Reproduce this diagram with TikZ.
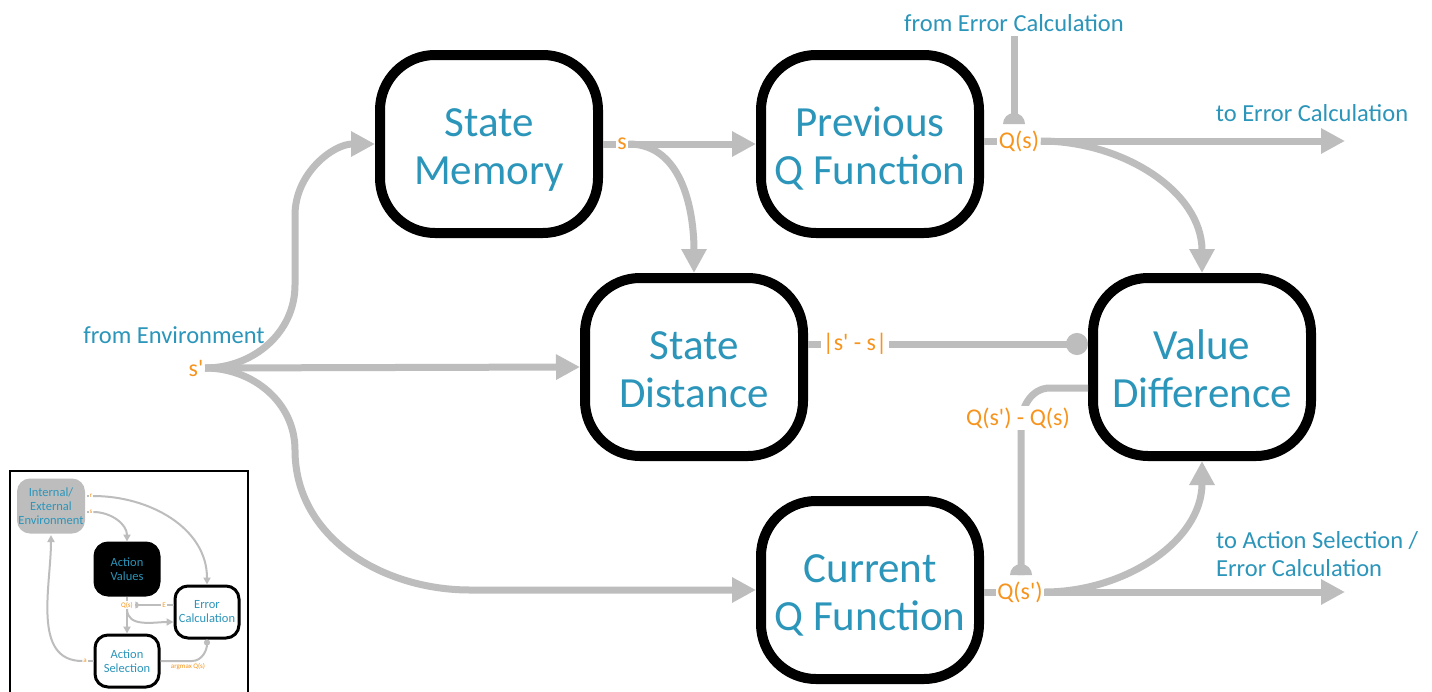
\documentclass[tikz,border=0pt]{standalone}
\usepackage{fontspec}
\setmainfont{Carlito}
\usetikzlibrary{arrows.meta,calc}
\definecolor{txtblue}{HTML}{2B95BA}
\definecolor{lblorange}{HTML}{F7941D}
\definecolor{conngray}{HTML}{BDBDBD}
\newcommand{\bs}{\rule[-8pt]{0pt}{48pt}}
\newcommand{\pr}{\textquotesingle}
\begin{document}
\begin{tikzpicture}[x=1pt,y=1pt,
  box/.style={draw=black, line width=10pt, rounded corners=55pt, minimum width=218pt, minimum height=178pt, align=center, text=txtblue, font=\fontsize{43}{48}\selectfont, fill=white},
  lbl/.style={text=lblorange, font=\fontsize{24}{28}\selectfont, inner sep=1.5pt, fill=white},
  note/.style={text=txtblue, font=\fontsize{24.5}{28}\selectfont, inner sep=0pt, align=left},
  conn/.style={draw=conngray, line width=7pt},
  arr/.style={conn, -{Triangle[length=24pt,width=24pt]}},
  ibox/.style={draw=black, line width=3pt, rounded corners=13pt, minimum width=64pt, minimum height=52pt, align=center, text=txtblue, font=\fontsize{12.5}{14}\selectfont, fill=white, inner sep=1pt},
  ilbl/.style={text=lblorange, font=\fontsize{7}{8}\selectfont, inner sep=0.8pt, fill=white},
  iconn/.style={draw=conngray, line width=2pt},
  iarr/.style={iconn, -{Triangle[length=7pt,width=7pt]}}
]
\useasboundingbox (0,0) rectangle (1432,-691);
\fill[white] (0,0) rectangle (1432,-691);

% main boxes
\node[box] (sm) at (489,-144) {\bs State\\\bs Memory};
\node[box] (pq) at (870,-144) {\bs Previous\\\bs Q Function};
\node[box] (sd) at (694,-367) {\bs State\\\bs Distance};
\node[box] (vd) at (1202,-367) {\bs Value\\\bs Difference};
\node[box] (cq) at (870,-590) {\bs Current\\\bs Q Function};

% labels
\node[note] (fromenv) at (174,-335) {from Environment};
\node[lbl] (sp) at (196,-368) {s\pr};
\node[lbl] (slab) at (622,-144) {s};
\node[lbl] (qslab) at (1019,-141) {Q(s)};
\node[lbl] (dlab) at (855,-344) {|s\pr{} - s|};
\node[lbl] (qsplab) at (1020,-592) {Q(s\pr)};
\node[note] (fromerr) at (1014,-23) {from Error Calculation};
\node[note] (toerr) at (1312,-113) {to Error Calculation};
\node[note, anchor=west] (toact) at (1216,-554) {to Action Selection /\\Error Calculation};
\coordinate (toerrend) at (1345,-141);
\coordinate (toactend) at (1345,-592);
\coordinate (ectop) at (1014,-36);
\coordinate (ecend) at (1014,-124);
\coordinate (diffend) at (1021,-575);

% connectors from environment
\draw[arr] (sp.east) -- (sd.west);
\draw[arr] (sp.east) to[out=0,in=-90] (295,-285) -- (295,-215) to[out=90,in=180] (sm.west);
\draw[arr] (sp.east) to[out=0,in=90] (295,-450) to[out=-90,in=180] (470,-590) -- (cq.west);

% state memory out
\draw[conn] (sm.east) -- (slab.west);
\draw[arr] (slab.east) -- (pq.west);
\draw[arr] (slab.east) to[out=0,in=90] (sd.north);

% previous Q out
\draw[conn] (pq.east|-qslab) -- (qslab.west);
\draw[arr] (qslab.east) -- (toerrend);
\draw[arr] (qslab.east) to[out=0,in=90] (vd.north);
\draw[conn] (ectop) -- (ecend);
\fill[conngray] ($(ecend)+(-11,0)$) arc[start angle=180,end angle=0,radius=11pt] -- cycle;

% distance
\draw[conn] (sd.east|-dlab) -- (dlab.west);
\draw[conn, -{Circle[length=22pt]}] (dlab.east) -- (vd.west|-dlab);

% current Q out
\draw[conn] (cq.east|-qsplab) -- (qsplab.west);
\draw[arr] (qsplab.east) -- (toactend);
\draw[arr] (qsplab.east) to[out=0,in=-90] (vd.south);

% value difference back
\draw[conn] ($(vd.west)+(0,-21)$) -- (1050,-388) to[out=180,in=90] (1021,-425) -- (diffend);
\fill[conngray] ($(diffend)+(-11,0)$) arc[start angle=180,end angle=0,radius=11pt] -- cycle;
\node[lbl] (difflab) at (1018,-418) {Q(s\pr) - Q(s)};

% inset
\draw[black, line width=2pt] (10,-471) rectangle (248,-720);
\node[ibox, fill=conngray, draw=none, minimum width=68pt, minimum height=55pt] (ienv) at (51,-506) {Internal/\\External\\Environment};
\node[ibox, fill=black] (iav) at (127,-569) {Action\\Values};
\node[ibox] (iec) at (207,-612) {Error\\Calculation};
\node[ibox] (ias) at (127,-661) {Action\\Selection};

\node[ilbl] (ir) at (91,-496) {r};
\node[ilbl] (is) at (91,-512) {s};
\draw[iconn] (ienv.east|-ir) -- (ir.west);
\draw[iarr] (ir.east) to[out=0,in=90] (iec.north);
\draw[iconn] (ienv.east|-is) -- (is.west);
\draw[iarr] (is.east) to[out=0,in=90] (iav.north);

\node[ilbl] (iq) at (127,-605) {Q(s)};
\draw[iconn] (iav.south) -- (iq.north);
\draw[iarr] (iq.south) -- (ias.north);
\draw[iarr] (iq.south) to[out=-90,in=180] ($(iec.west)+(0,-10)$);
\node[ilbl] (ie) at (164,-605) {E};
\coordinate (iqe) at ($(iq.east)+(1.5,0)$);
\draw[iconn] (iec.west|-ie) -- (ie.east);
\draw[iconn] (ie.west) -- (iqe);
\fill[conngray] ($(iqe)+(0,3.5)$) arc[start angle=90,end angle=-90,radius=3.5pt] -- cycle;

\node[ilbl] (ia) at (85,-661) {a};
\draw[iconn] (ias.west) -- (ia.east);
\draw[iarr] (ia.west) to[out=180,in=-90] (ienv.south);
\node[ilbl, fill=none] (iam) at (188,-667) {argmax Q(s)};
\draw[iconn, -{Circle[length=6pt]}] (ias.east) -- (192,-661) to[out=0,in=-90] (iec.south);
\end{tikzpicture}
\end{document}
